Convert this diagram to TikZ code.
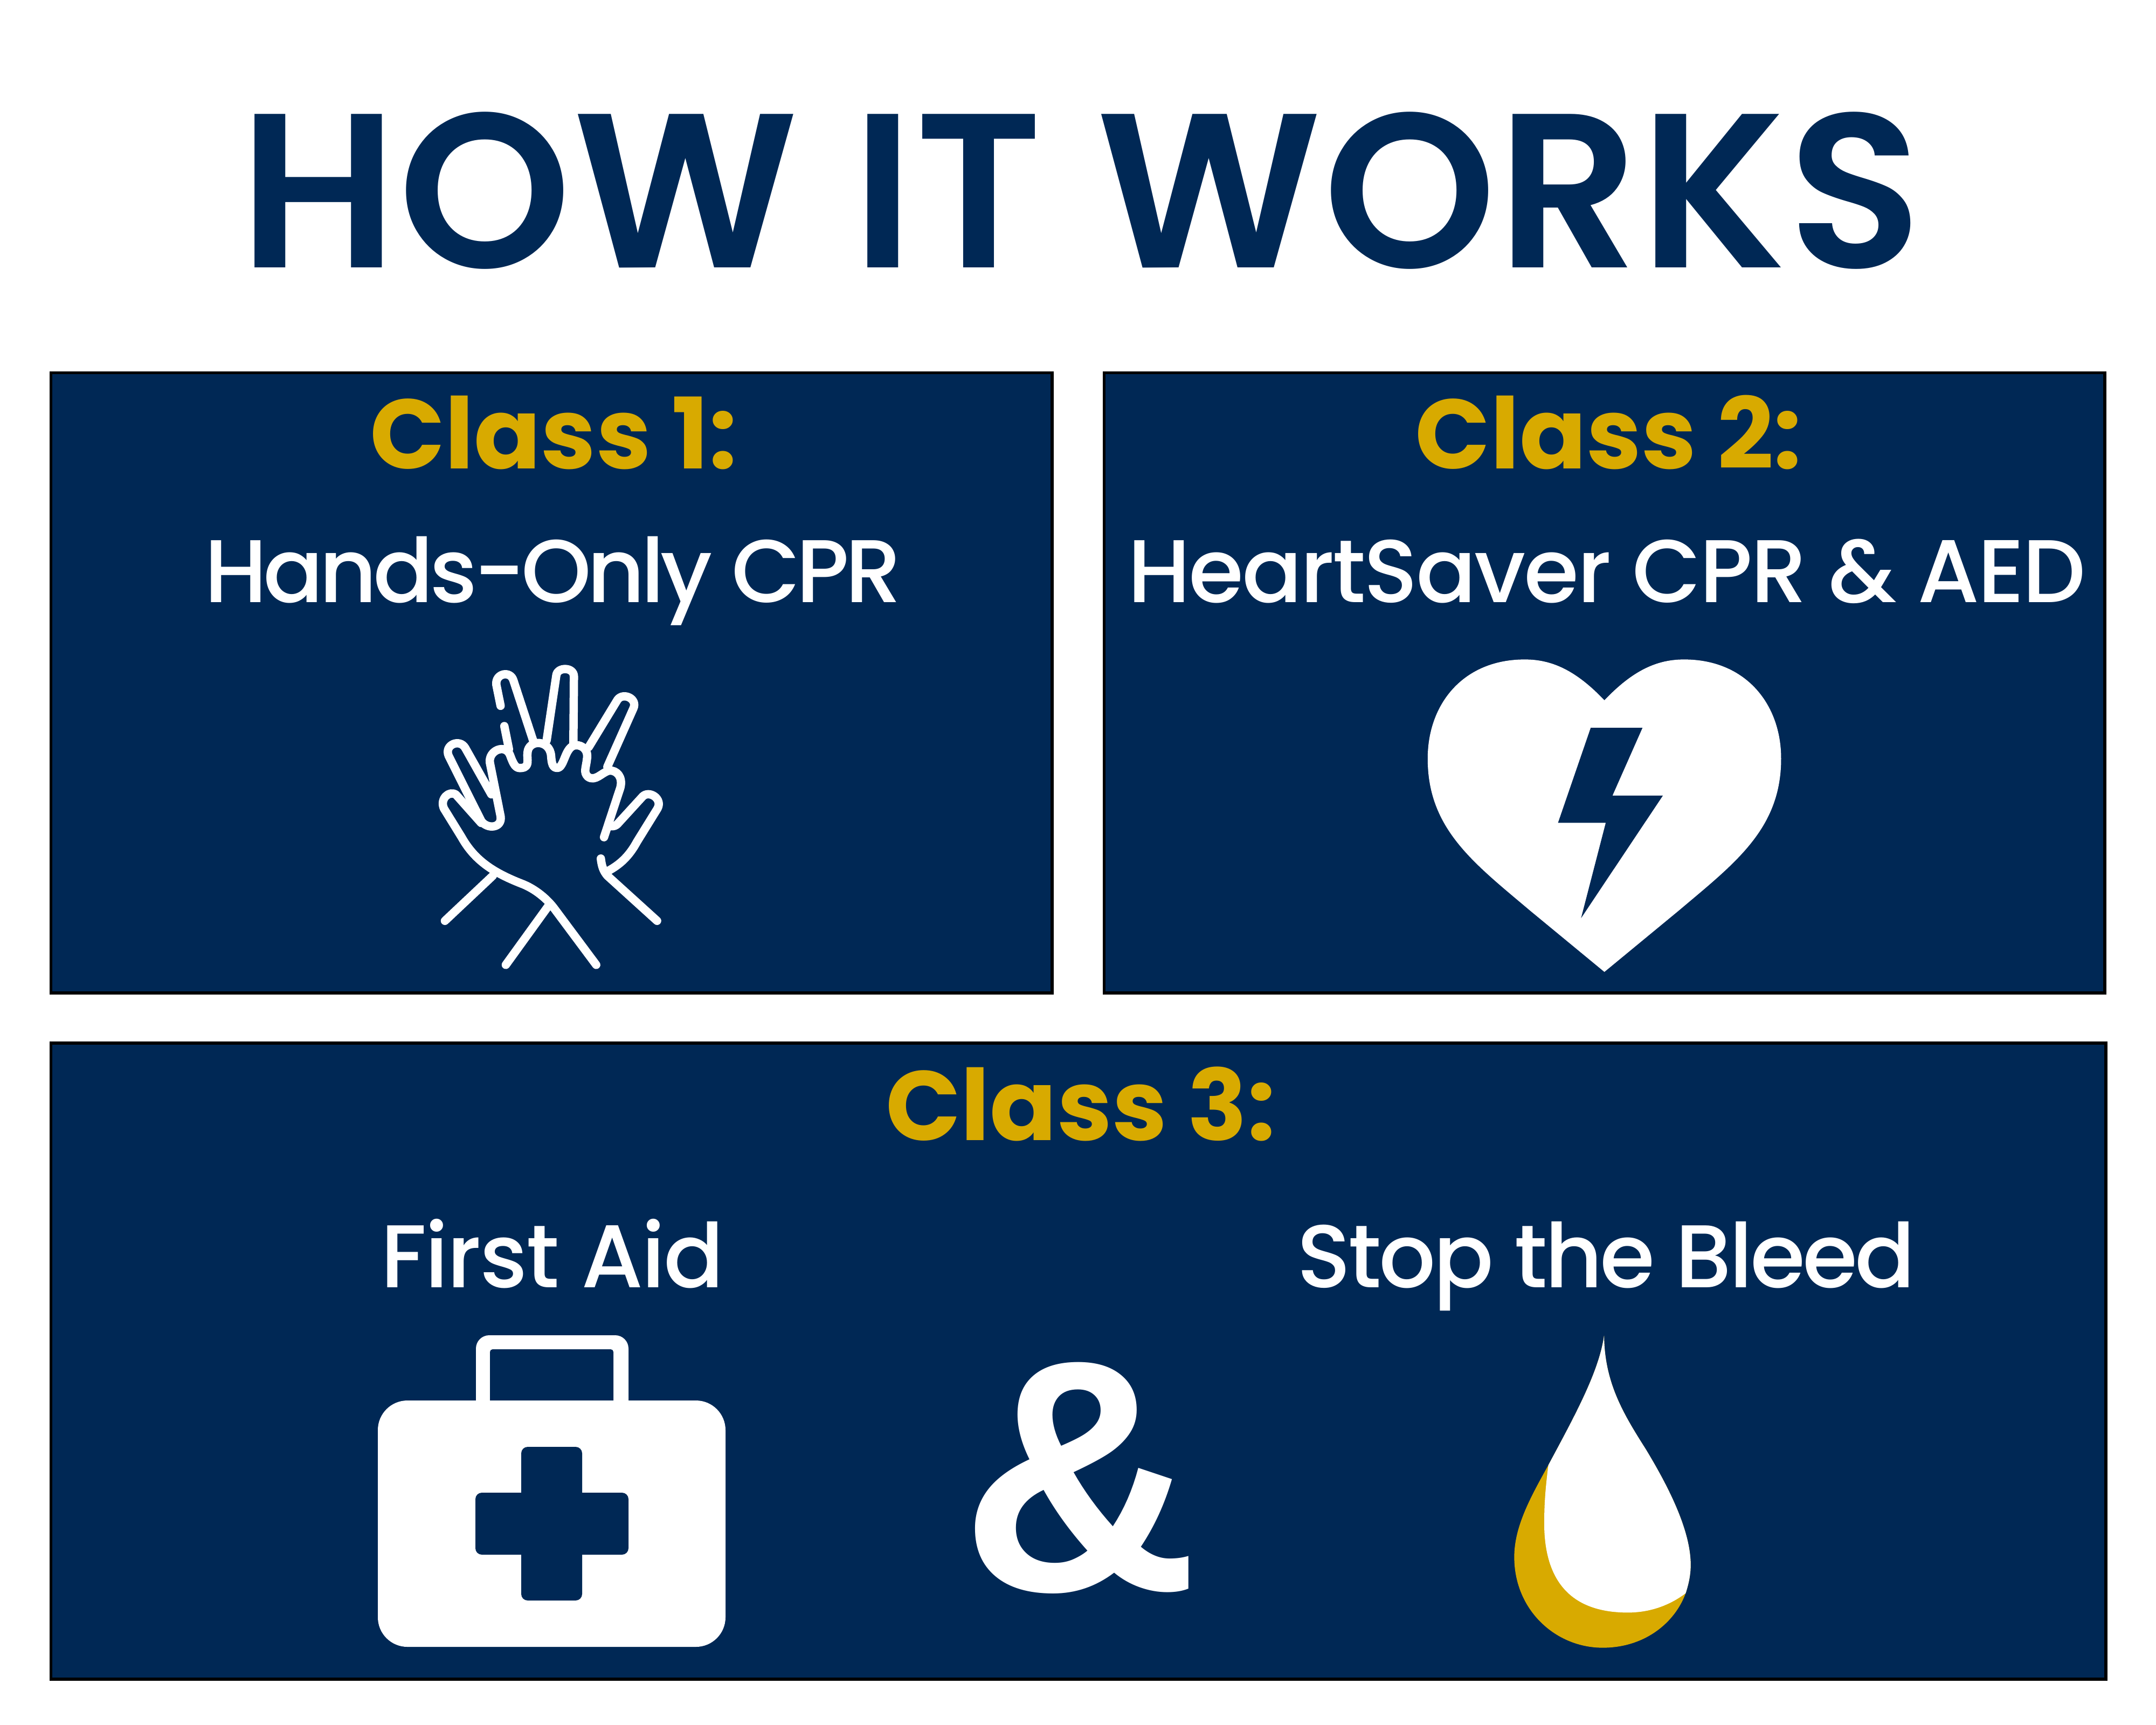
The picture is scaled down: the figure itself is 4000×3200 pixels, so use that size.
\documentclass[tikz,border=0pt]{standalone}
\usepackage{fontspec}
\setmainfont{Poppins Medium}[BoldFont={Poppins Bold}]
\newfontfamily\headfont{Poppins SemiBold}[LetterSpace=0.8]
\newfontfamily\ampfont{Liberation Sans}
\newcommand{\squeezed}[2]{{\addfontfeature{LetterSpace=#1}#2}}
\definecolor{navy}{RGB}{0,40,85}
\definecolor{gold}{RGB}{216,170,0}
\tikzset{
	panel/.style={draw=black, line width=1.6pt, fill=navy},
	heading/.style={anchor=base, text=navy, font=\headfont\fontsize{116}{116}\selectfont},
	classname/.style={anchor=base, text=gold, font=\fontsize{52}{52}\selectfont\bfseries},
	topic/.style={anchor=base, text=white, font=\fontsize{47}{47}\selectfont},
	handline/.style={draw=white, line width=4.4pt, line cap=round, line join=round}
}

\begin{document}
\begin{tikzpicture}[x=0.01cm, y=-0.01cm]
	%%%%% START %%%%%
	\useasboundingbox (0, 0) rectangle (4000, 3200);
	
	\node[heading] (title) at (2005, 496) {HOW IT WORKS};
	
	\draw[panel] (94.5, 691.5) rectangle (1951.7, 1841.7);
	\draw[panel] (2048.4, 691.5) rectangle (3905, 1841.7);
	\draw[panel] (94.5, 1935) rectangle (3907, 3115);
	
	\node[classname] (classone) at (1027, 869) {Class 1:};
	\node[topic] (handsonly) at (1026, 1117) {\squeezed{-4.5}{Hands-Only CPR}};
	\node[classname] (classtwo) at (2984, 869) {Class 2:};
	\node[topic] (heartsaver) at (2981, 1117) {\squeezed{-2.1}{HeartSaver CPR \& AED}};
	\node[classname] (classthree) at (2005, 2115) {Class 3:};
	\node[topic] (firstaid) at (1025, 2388) {\squeezed{-1.6}{First Aid}};
	\node[topic] (stopbleed) at (2980, 2388) {\squeezed{-2.9}{Stop the Bleed}};
	\node[anchor=base, text=white, font=\ampfont\fontsize{174}{174}\selectfont\bfseries] (amp) at (2003, 2950) {\&};
	
	% hands
	\begin{scope}[shift={(760, 1200)}, xscale=0.3444, yscale=0.4082]
		\draw[handline] (490, 268) -- (467, 172) .. controls (460, 120) and (545, 105) .. (560, 155) -- (665, 425);
		\draw[handline] (738, 425) -- (790, 130) .. controls (795, 90) and (885, 90) .. (885, 135) -- (882, 440);
		\draw[handline] (965, 455) -- (1120, 240) .. controls (1150, 205) and (1230, 235) .. (1205, 280) -- (1065, 545);
		\draw[handline] (510, 360) -- (535, 465);
		\draw[handline] (440, 670) -- (300, 460) .. controls (270, 415) and (185, 445) .. (210, 495) -- (385, 790) .. controls (415, 830) and (500, 825) .. (490, 770) -- (432, 525) .. controls (425, 470) and (515, 440) .. (540, 490) .. controls (560, 535) and (570, 555) .. (605, 550) .. controls (650, 545) and (630, 510) .. (635, 480) .. controls (640, 420) and (755, 420) .. (762, 495) .. controls (765, 530) and (770, 550) .. (795, 550) .. controls (835, 550) and (835, 450) .. (895, 447) .. controls (930, 445) and (965, 470) .. (955, 510) .. controls (950, 550) and (935, 570) .. (960, 590) .. controls (1000, 615) and (1035, 570) .. (1075, 562) .. controls (1115, 560) and (1150, 590) .. (1135, 640) -- (1047, 865);
		\draw[handline] (385, 800) -- (250, 672) .. controls (215, 650) and (160, 690) .. (185, 735) -- (280, 865) .. controls (350, 970) and (450, 1025) .. (600, 1075) .. controls (680, 1100) and (745, 1150) .. (780, 1190) -- (1005, 1445);
		\draw[handline] (448, 1040) -- (190, 1245);
		\draw[handline] (745, 1180) -- (518, 1445);
		\draw[handline] (1030, 962) .. controls (1035, 1000) and (1045, 1020) .. (1065, 1040) -- (1333, 1245);
		\draw[handline] (1085, 815) .. controls (1100, 815) and (1110, 815) .. (1125, 800) -- (1255, 680) .. controls (1290, 650) and (1365, 690) .. (1335, 735) -- (1225, 885) .. controls (1180, 955) and (1130, 990) .. (1070, 1018);
	\end{scope}
	
	% heart
	\begin{scope}[shift={(2600, 1180)}, xscale=0.4975, yscale=0.4209]
		\fill[white] (757, 283) .. controls (650, 150) and (560, 103) .. (460, 103) .. controls (230, 103) and (98, 300) .. (98, 540) .. controls (98, 850) and (270, 1000) .. (480, 1210) -- (757, 1480) -- (1034, 1210) .. controls (1244, 1000) and (1416, 850) .. (1416, 540) .. controls (1416, 300) and (1284, 103) .. (1054, 103) .. controls (954, 103) and (864, 150) .. (757, 283) -- cycle;
		\fill[navy] (706, 404) -- (899, 404) -- (787, 703) -- (975, 703) -- (670, 1243) -- (762, 823) -- (584, 823) -- cycle;
	\end{scope}
	
	% first aid kit
	\fill[white, rounded corners=7pt] (883, 2640) rectangle (1166, 2477);
	\fill[navy, rounded corners=1.4pt] (909, 2640) rectangle (1138, 2503);
	\fill[white, rounded corners=15.6pt] (701, 2598) rectangle (1346, 3055);
	\fill[navy, rounded corners=3.4pt] (967, 2684) rectangle (1080, 2969);
	\fill[navy, rounded corners=3.4pt] (882, 2769) rectangle (1166, 2884);
	
	% drop
	\begin{scope}[shift={(2720, 2440)}, xscale=0.3333, yscale=0.4209]
		\fill[gold] (768, 90) .. controls (740, 250) and (600, 450) .. (458, 660) .. controls (360, 800) and (268, 930) .. (268, 1065) .. controls (268, 1300) and (500, 1465) .. (760, 1465) .. controls (1000, 1465) and (1165, 1350) .. (1222, 1225) .. controls (1245, 1170) and (1250, 1130) .. (1250, 1100) .. controls (1250, 950) and (1130, 760) .. (1000, 590) .. controls (880, 440) and (770, 300) .. (768, 90) -- cycle;
		\fill[white] (768, 90) .. controls (740, 250) and (600, 450) .. (458, 660) .. controls (435, 800) and (435, 870) .. (435, 930) .. controls (440, 1150) and (560, 1310) .. (900, 1310) .. controls (1020, 1310) and (1130, 1280) .. (1222, 1225) .. controls (1245, 1170) and (1250, 1130) .. (1250, 1100) .. controls (1250, 950) and (1130, 760) .. (1000, 590) .. controls (880, 440) and (770, 300) .. (768, 90) -- cycle;
	\end{scope}
	%%%%% END %%%%%
\end{tikzpicture}
\end{document}
